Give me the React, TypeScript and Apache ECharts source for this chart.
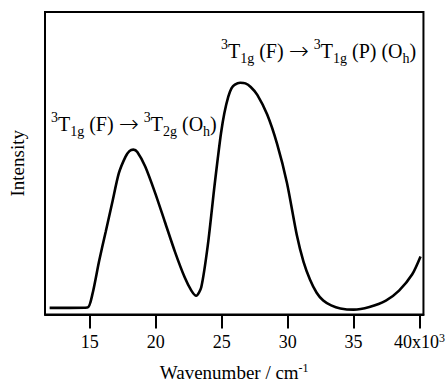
import React, { useEffect, useRef } from "react";
import * as echarts from "echarts";

const wavenumber = [
  11.95, 13.45, 14.82, 15.2, 15.7, 16.2, 16.7, 17.2, 17.7, 18.0, 18.3, 18.6, 19.2, 19.95,
  20.7, 21.45, 22.2, 22.7, 23.07, 23.45, 23.95, 24.45, 24.7, 24.95, 25.2, 25.5, 25.75, 26.0,
  26.4, 26.8, 27.2, 27.7, 28.45, 29.2, 29.95, 30.7, 31.2, 31.7, 32.2, 32.7, 33.3, 34.0, 35.0,
  36.2, 37.45, 38.45, 39.45, 40.08,
];
const intensity = [
  0.022, 0.022, 0.023, 0.068, 0.176, 0.273, 0.37, 0.467, 0.521, 0.54, 0.545, 0.537, 0.489,
  0.402, 0.305, 0.208, 0.122, 0.079, 0.062, 0.09, 0.23, 0.424, 0.515, 0.6, 0.665, 0.72,
  0.748, 0.76, 0.766, 0.764, 0.752, 0.726, 0.661, 0.564, 0.435, 0.262, 0.175, 0.115, 0.072,
  0.046, 0.03, 0.02, 0.016, 0.025, 0.046, 0.079, 0.133, 0.192,
];
const tickValues = [15, 20, 25, 30, 35, 40];
const xTitle = "Wavenumber / cm";
const yTitle = "Intensity";

const SERIF = "Liberation Serif";

export default function App() {
  const ref = useRef<HTMLDivElement>(null);
  useEffect(() => {
    if (!ref.current) return;
    const chart = echarts.init(ref.current, null, { renderer: "svg" });
    const data = wavenumber.map((w, i) => [w, intensity[i]]);
    const richAnno = {
      m: { fontFamily: SERIF, fontSize: 20, fill: "#000", lineHeight: 28, verticalAlign: "middle" },
      ar: {
        fontFamily: "DejaVu Sans",
        fontWeight: 200,
        fontSize: 24,
        fill: "#000",
        lineHeight: 28,
        verticalAlign: "middle",
      },
      sup: { fontFamily: SERIF, fontSize: 14, fill: "#000", lineHeight: 14, verticalAlign: "top" },
      sub: { fontFamily: SERIF, fontSize: 14, fill: "#000", lineHeight: 14, verticalAlign: "bottom" },
    };
    chart.setOption({
      animation: false,
      grid: {
        left: 45,
        right: 20,
        top: 12,
        bottom: 66,
        show: true,
        borderColor: "#000",
        borderWidth: 2,
        backgroundColor: "transparent",
      },
      xAxis: {
        type: "value",
        min: 11.6,
        max: 40.3,
        name: `{m|${xTitle}}{sup|-1}`,
        nameLocation: "middle",
        nameGap: 47,
        nameTextStyle: {
          rich: {
            m: { fontFamily: SERIF, fontSize: 19, color: "#000", lineHeight: 22, verticalAlign: "middle" },
            sup: { fontFamily: SERIF, fontSize: 12, color: "#000", lineHeight: 12, verticalAlign: "top" },
          },
        },
        axisLine: { show: true, lineStyle: { color: "#000", width: 2 } },
        axisTick: {
          show: true,
          inside: false,
          length: 14,
          customValues: tickValues,
          lineStyle: { color: "#000", width: 2 },
        },
        axisLabel: {
          customValues: tickValues,
          margin: 17,
          formatter: (v: number) => (v === 40 ? `{m|40x10}{sup|3}` : `{m|${v}}`),
          rich: {
            m: { fontFamily: SERIF, fontSize: 18, color: "#000", lineHeight: 20, verticalAlign: "middle" },
            sup: { fontFamily: SERIF, fontSize: 12, color: "#000", lineHeight: 12, verticalAlign: "top" },
          },
        },
        splitLine: { show: false },
      },
      yAxis: {
        type: "value",
        min: 0,
        max: 1,
        name: yTitle,
        nameLocation: "middle",
        nameGap: 18,
        nameTextStyle: { fontFamily: SERIF, fontSize: 19, color: "#000" },
        axisLine: { show: false },
        axisTick: { show: false },
        axisLabel: { show: false },
        splitLine: { show: false },
      },
      series: [
        {
          type: "line",
          data,
          smooth: 0.25,
          showSymbol: false,
          lineStyle: { color: "#000", width: 2.6 },
        },
      ],
      graphic: [
        {
          type: "text",
          left: 51,
          top: 110,
          style: {
            fill: "#000",
            text: "{sup|3}{m|T}{sub|1g}{m| (F) }{ar|→}{m| }{sup|3}{m|T}{sub|2g}{m| (O}{sub|h}{m|)}",
            rich: richAnno,
          },
        },
        {
          type: "text",
          left: 221,
          top: 37,
          style: {
            fill: "#000",
            text: "{sup|3}{m|T}{sub|1g}{m| (F) }{ar|→}{m| }{sup|3}{m|T}{sub|1g}{m| (P) (O}{sub|h}{m|)}",
            rich: richAnno,
          },
        },
      ],
    });
    return () => chart.dispose();
  }, []);
  return (
    <div
      ref={ref}
      style={{ position: "absolute", left: 0, top: 0, width: 448, height: 387, background: "#fff" }}
    />
  );
}
